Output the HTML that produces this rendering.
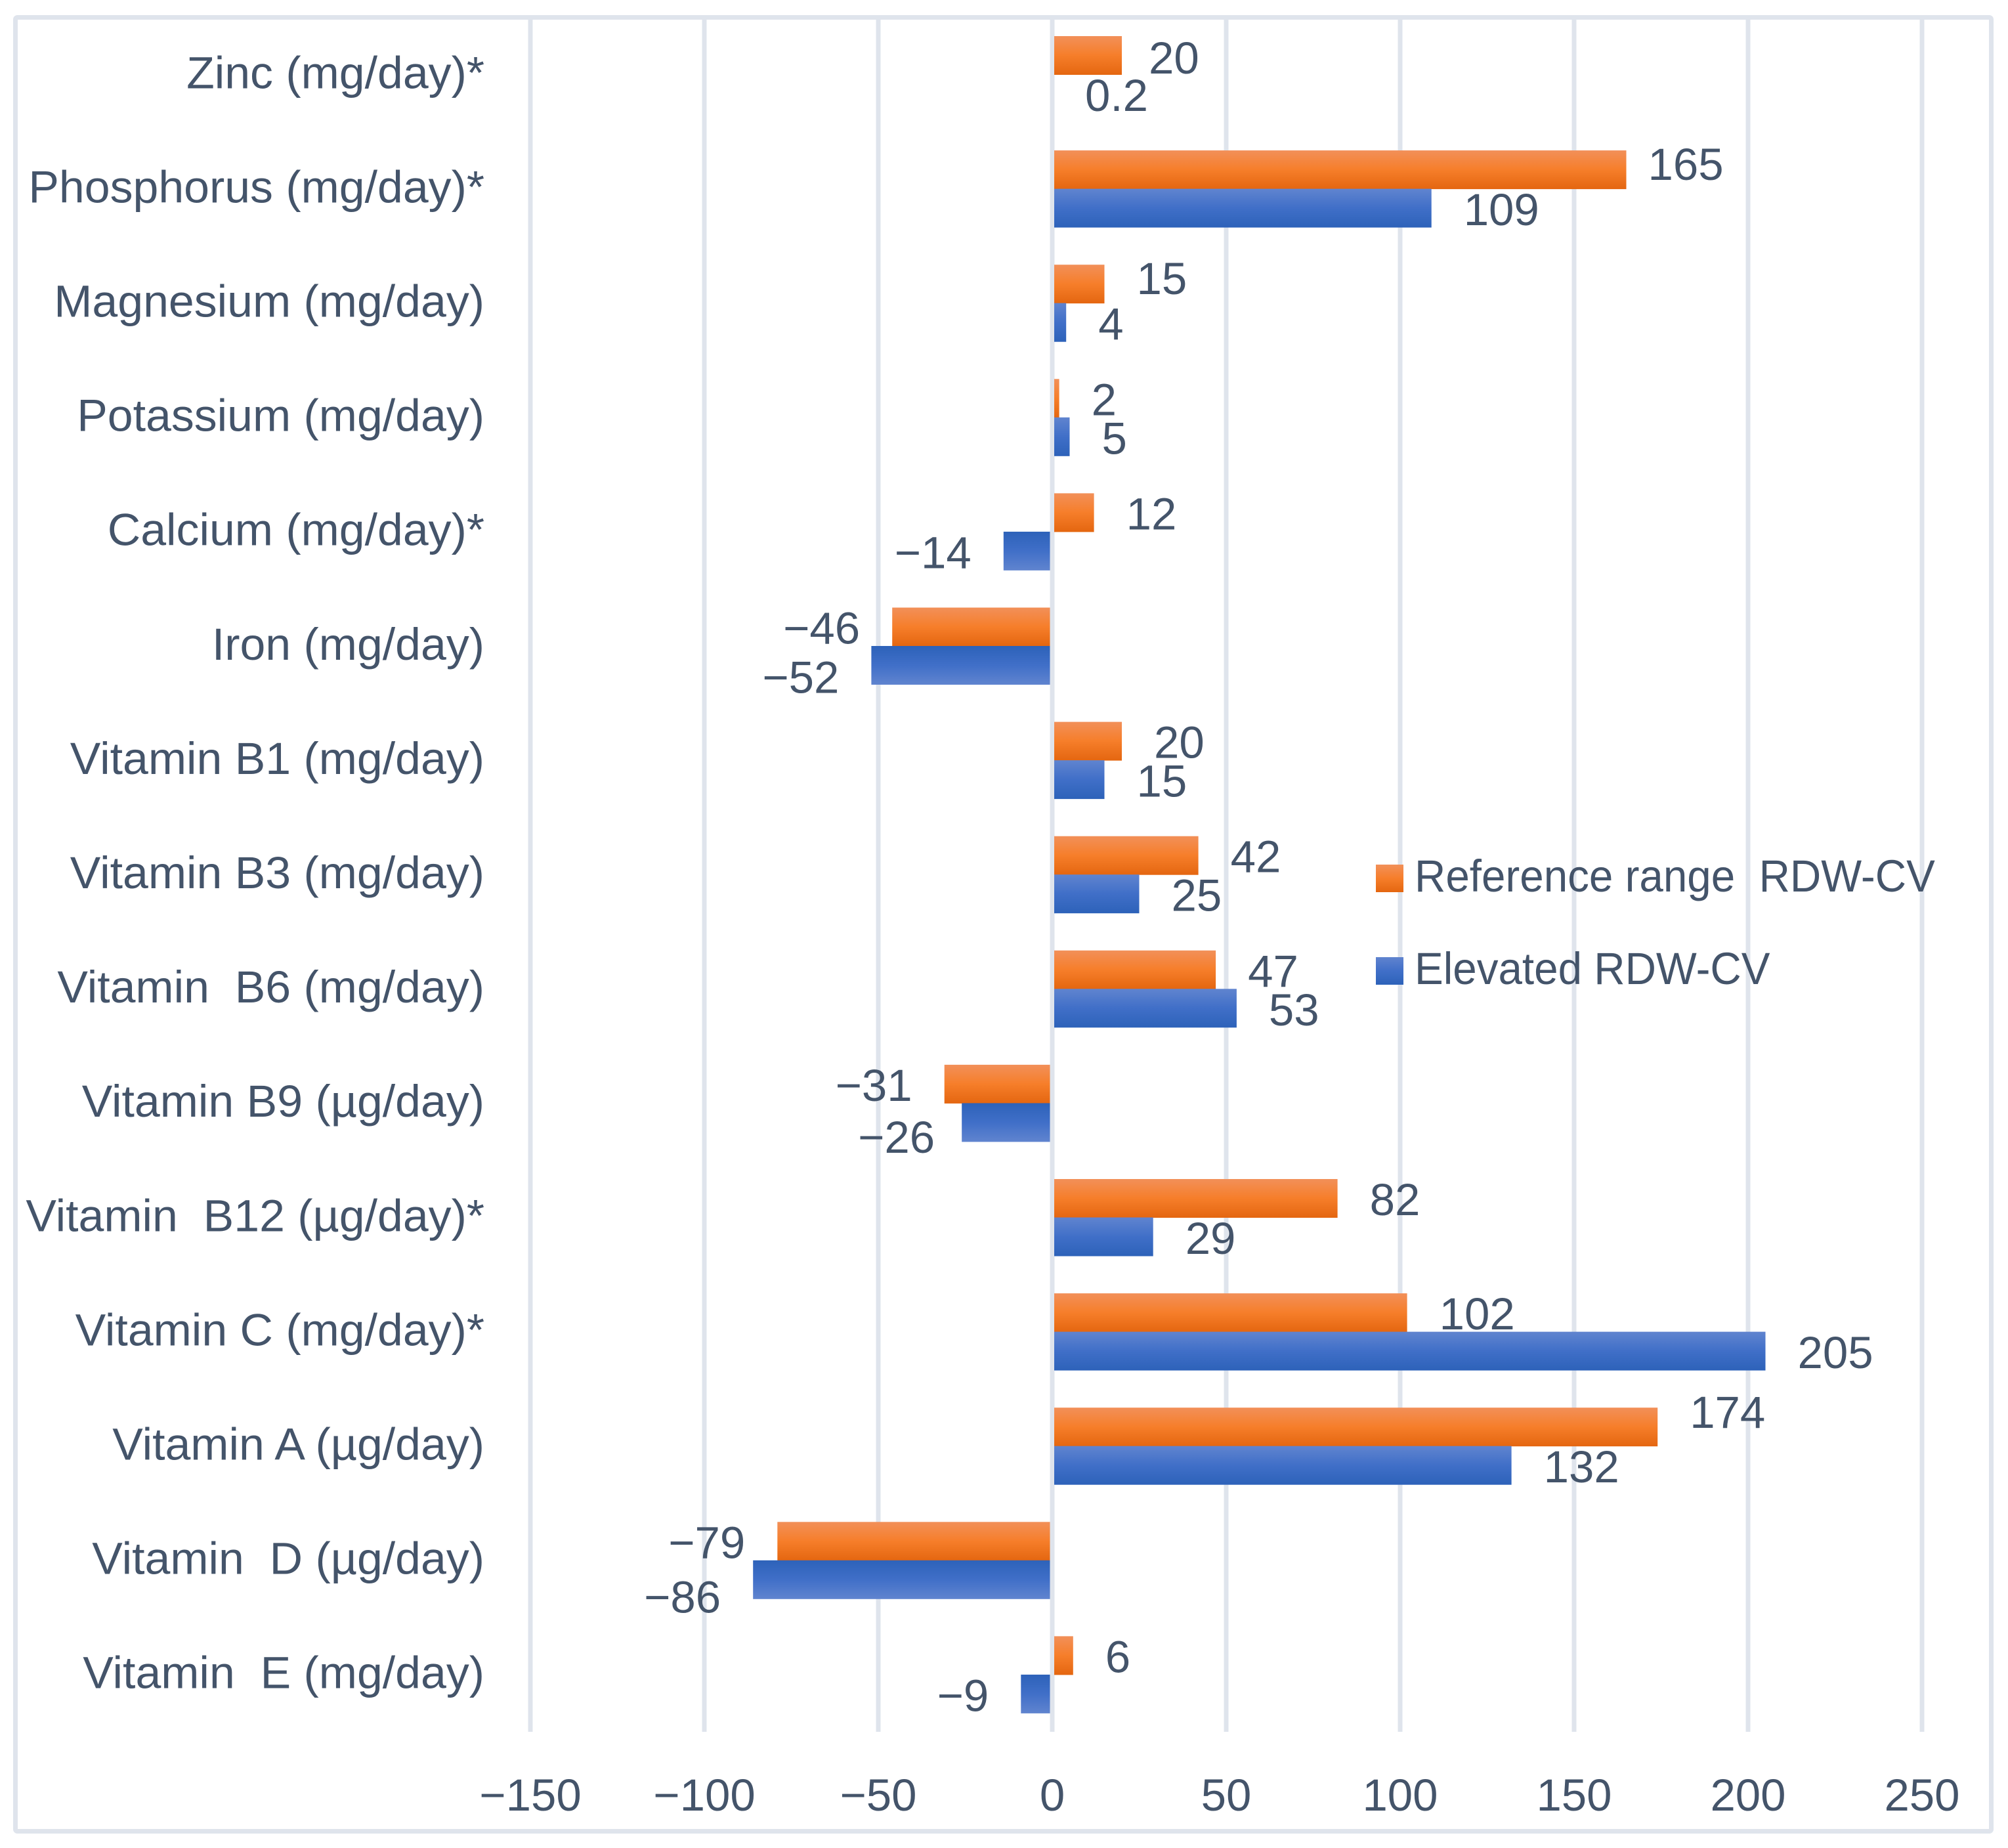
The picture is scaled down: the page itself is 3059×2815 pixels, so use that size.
<!DOCTYPE html>
<html lang="en">
<head>
<meta charset="utf-8">
<title>Nutrient intake by RDW-CV group</title>
<style>
  html, body { margin: 0; padding: 0; background: #fff; }
  svg { display: block; }
  text { font-family: "Liberation Sans", sans-serif; font-size: 69px; fill: #44546a; white-space: pre; }
</style>
</head>
<body>
<svg id="chart" xmlns="http://www.w3.org/2000/svg" width="3059" height="2815" viewBox="0 0 3059 2815">
  <defs>
    <linearGradient id="grad-orange" x1="0" y1="0" x2="0" y2="1">
      <stop offset="0" stop-color="#f29059"/>
      <stop offset="0.5" stop-color="#f67e2a"/>
      <stop offset="1" stop-color="#e46610"/>
    </linearGradient>
    <linearGradient id="grad-blue" x1="0" y1="0" x2="0" y2="1">
      <stop offset="0" stop-color="#6084cf"/>
      <stop offset="0.5" stop-color="#406fc8"/>
      <stop offset="1" stop-color="#2d62b9"/>
    </linearGradient>
    <linearGradient id="grad-blue-inverted" x1="0" y1="1" x2="0" y2="0">
      <stop offset="0" stop-color="#6084cf"/>
      <stop offset="0.5" stop-color="#406fc8"/>
      <stop offset="1" stop-color="#2d62b9"/>
    </linearGradient>
  </defs>
  <rect x="0" y="0" width="3059" height="2815" fill="#ffffff"/>
  <g id="grid"></g>
  <rect x="23.5" y="26.5" width="3010" height="2763" rx="3" fill="none" stroke="#dfe4ec" stroke-width="7"/>
  <g id="bars"></g>
  <g id="cat-labels"></g>
  <g id="value-labels"></g>
  <g id="tick-labels"></g>
  <g>
    <g>
      <rect x="2096" y="1317" width="42" height="42" fill="url(#grad-orange)"/>
      <text transform="translate(2155,1358) scale(0.95,1)">Reference range  RDW-CV</text>
    </g>
    <g>
      <rect x="2096" y="1458" width="42" height="42" fill="url(#grad-blue)"/>
      <text transform="translate(2155,1499) scale(0.95,1)">Elevated RDW-CV</text>
    </g>
  </g>
</svg>
<script>
const categories = [
  "Zinc (mg/day)*", "Phosphorus (mg/day)*", "Magnesium (mg/day)", "Potassium (mg/day)",
  "Calcium (mg/day)*", "Iron (mg/day)", "Vitamin B1 (mg/day)", "Vitamin B3 (mg/day)",
  "Vitamin  B6 (mg/day)", "Vitamin B9 (µg/day)", "Vitamin  B12 (µg/day)*", "Vitamin C (mg/day)*",
  "Vitamin A (µg/day)", "Vitamin  D (µg/day)", "Vitamin  E (mg/day)"
];
const referenceRange = [20, 165, 15, 2, 12, -46, 20, 42, 47, -31, 82, 102, 174, -79, 6];
const elevated = [0.2, 109, 4, 5, -14, -52, 15, 25, 53, -26, 29, 205, 132, -86, -9];
const tickValues = [-150, -100, -50, 0, 50, 100, 150, 200, 250];

/* Hand-placed label exceptions seen in the figure: [dx, dy] offsets from the default placement. */
const referenceLabelNudges = { 0: [-8, 2], 1: [-16, -10], 2: [0, -10], 12: [0, -24] };
const elevatedLabelNudges = { 5: [0, 16], 9: [8, 20], 13: [0, 24] };

const NS = "http://www.w3.org/2000/svg";
const domainMin = -150, domainMax = 250;
const rangeMin = 808, rangeMax = 2928;
const plotTop = 30, plotBottom = 2638;
const firstRowCenter = 114, rowPitch = 174.1;
const barHeight = 59, labelGap = 49, baselineShift = 25.5;

function xScale(v) {
  return rangeMin + (v - domainMin) * (rangeMax - rangeMin) / (domainMax - domainMin);
}
function yScale(i) {
  return firstRowCenter + i * rowPitch;
}
function formatValue(v) {
  return v < 0 ? "\u2212" + Math.abs(v) : String(v);
}
function make(tag, attrs, parent) {
  const el = document.createElementNS(NS, tag);
  for (const k in attrs) el.setAttribute(k, attrs[k]);
  parent.appendChild(el);
  return el;
}

const gridGroup = document.getElementById("grid");
const tickGroup = document.getElementById("tick-labels");
tickValues.forEach(function (t) {
  const line = make("rect", { x: xScale(t) - 3.5, y: plotTop, width: 7, height: plotBottom - plotTop, fill: "#dfe4ec" }, gridGroup);
  
  
  const label = make("text", { x: xScale(t), y: 2758, "text-anchor": "middle" }, tickGroup);
  label.textContent = formatValue(t);
  
  
});

const catGroup = document.getElementById("cat-labels");
const barGroup = document.getElementById("bars");
const valueGroup = document.getElementById("value-labels");

function drawBar(v, top, positiveFill, negativeFill) {
  const zeroX = xScale(0);
  const startPos = zeroX + 3;
  const endNeg = zeroX - 3.5;
  const end = xScale(v);
  const bar = make("rect", {
    x: v >= 0 ? startPos : end,
    y: top,
    width: v >= 0 ? Math.max(0, end - startPos) : Math.max(0, endNeg - end),
    height: barHeight,
    fill: v >= 0 ? positiveFill : negativeFill
  }, barGroup);
  return bar;
}
function drawValueLabel(v, centerY, nudge) {
  const n = nudge || [0, 0];
  const end = xScale(v);
  const negative = v < 0;
  const label = make("text", {
    x: (negative ? end - labelGap : end + labelGap) + n[0],
    y: centerY + baselineShift + n[1],
    "text-anchor": negative ? "end" : "start"
  }, valueGroup);
  label.textContent = formatValue(v);
  return label;
}

categories.forEach(function (name, i) {
  const c = yScale(i);
  const cat = make("text", { transform: "translate(738," + (c + 20.3) + ") scale(1.012,1)", "text-anchor": "end" }, catGroup);
  cat.textContent = name;
  
  

  const refBar = drawBar(referenceRange[i], c - barHeight, "url(#grad-orange)", "url(#grad-orange)");
  
  

  const elevBar = drawBar(elevated[i], c - 0.5, "url(#grad-blue)", "url(#grad-blue-inverted)");
  
  

  const refLabel = drawValueLabel(referenceRange[i], c - barHeight / 2, referenceLabelNudges[i]);
  
  

  const elevLabel = drawValueLabel(elevated[i], c + barHeight / 2, elevatedLabelNudges[i]);
  
  
});
</script>
</body>
</html>
